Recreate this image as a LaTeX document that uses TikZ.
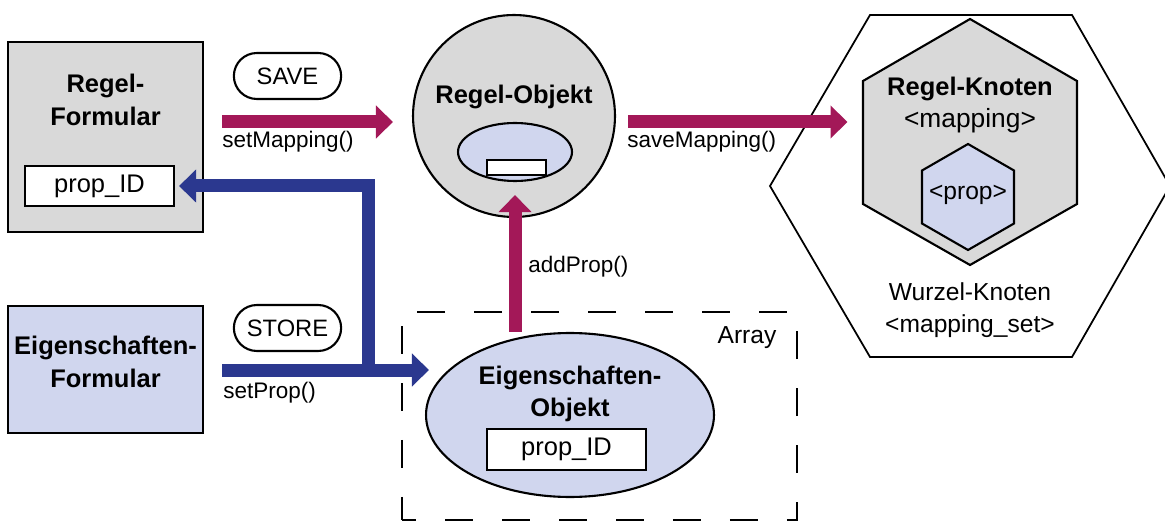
\documentclass[tikz,border=0pt]{standalone}
\usepackage{fontspec}
\setmainfont{Liberation Sans}
\usetikzlibrary{positioning, calc, arrows.meta, shapes.geometric, shapes.misc}
\definecolor{regmag}{HTML}{A31858}
\definecolor{propblue}{HTML}{2B388F}
\definecolor{regfill}{HTML}{D9D9D9}
\definecolor{propfill}{HTML}{D0D6EE}
\begin{document}
\begin{tikzpicture}[x=0.02cm,y=-0.02cm,
  box/.style={draw,line width=1.2pt,inner sep=0pt},
  idbox/.style={box,fill=white,font=\fontsize{14.5}{17}\selectfont},
  bold/.style={font=\fontsize{14.5}{18.5}\selectfont\bfseries,align=center},
  txt/.style={font=\fontsize{14}{17}\selectfont,inner sep=0pt},
  call/.style={font=\fontsize{12.8}{15}\selectfont,anchor=base west,inner sep=0pt},
  pill/.style={draw,line width=1.2pt,rounded rectangle,minimum width=2.38cm,minimum height=0.92cm,font=\fontsize{13.5}{16}\selectfont},
  magarrow/.style={draw=regmag,line width=0.26cm,-{Triangle[length=0.34cm,width=0.64cm]}},
  bluearrow/.style={draw=propblue,line width=0.26cm,-{Triangle[length=0.34cm,width=0.64cm]}}]
\useasboundingbox (0,0) rectangle (1165,523);

\node[box,fill=regfill,minimum width=3.9cm,minimum height=3.8cm] (rform) at (105.5,137) {};
\node[bold] at (105.5,100) {Regel-\\Formular};
\node[idbox,minimum width=2.98cm,minimum height=0.8cm] (rprop) at (99.5,186) {prop\_ID};
\node[box,fill=propfill,minimum width=3.9cm,minimum height=2.54cm] (eform) at (105.5,369.5) {};
\node[bold] at (105.5,362) {Eigenschaften-\\Formular};

\node[pill] (save) at (287.5,76) {SAVE};
\node[pill] (store) at (287.5,328) {STORE};

\node[box,circle,fill=regfill,minimum size=4.04cm] (robj) at (514,116) {};
\node[bold,anchor=base,inner sep=0pt] at (514,104) {Regel-Objekt};
\node[box,ellipse,fill=propfill,minimum width=2.28cm,minimum height=1.16cm] (robjin) at (515,152) {};
\node[box,fill=white,minimum width=1.18cm,minimum height=0.3cm] (robjid) at (516.5,167.5) {};

\node[box,ellipse,fill=propfill,minimum width=5.76cm,minimum height=3.28cm] (eobj) at (570,415) {};
\node[bold] at (570,394) {Eigenschaften-\\Objekt};
\node[idbox,minimum width=3.18cm,minimum height=0.82cm] (eprop) at (566.5,449.5) {prop\_ID};

\draw[line width=1pt] (870,15) -- (1072,15) -- (1170,186) -- (1072,357) -- (870,357) -- (770,186) -- cycle;
\draw[line width=1.2pt,fill=regfill] (970,19) -- (1077,81) -- (1077,204) -- (970,265) -- (863,204) -- (863,81) -- cycle;
\draw[line width=1.2pt,fill=propfill] (968,144) -- (1014,170.5) -- (1014,223.5) -- (968,250) -- (922,223.5) -- (922,170.5) -- cycle;
\coordinate (rknotenW) at (863,122);
\node[bold,anchor=base,inner sep=0pt] at (970,96) {Regel-Knoten};
\node[txt,font=\fontsize{15}{18}\selectfont,anchor=base] at (970,128) {<mapping>};
\node[txt,anchor=base] at (968,200) {<prop>};
\node[txt,anchor=base] at (970,300) {Wurzel-Knoten};
\node[txt,anchor=base] at (970,332) {<mapping\_set>};

\coordinate (setmapS) at (222,122);
\coordinate (setpropS) at (222,370);
\coordinate (branch) at (368,370);
\draw[magarrow,shorten >=0.38cm] (setmapS) -- (setmapS -| robj.west);
\draw[magarrow,shorten <=0.24cm,shorten >=0.31cm] (setmapS -| robj.east) -- (rknotenW);
\draw[magarrow,shorten >=0.26cm] (robjin.south |- eobj.north) -- (robjin.south);
\draw[bluearrow,shorten >=-0.08cm] (setpropS) -- (setpropS -| eobj.west);
\draw[bluearrow,shorten >=0.08cm] (branch) |- (rprop.east);

\node[call] at (222,148) {setMapping()};
\node[call] at (627,148) {saveMapping()};
\node[call] at (223,398) {setProp()};
\node[call] at (528,273) {addProp()};

\node[draw,line width=1.2pt,dash pattern=on 0.56cm off 0.58cm,dash phase=0.28cm,minimum width=7.9cm,minimum height=4.16cm] (array) at (599.5,416) {};
\node[txt,anchor=base] at (747,343) {Array};
\end{tikzpicture}
\end{document}
